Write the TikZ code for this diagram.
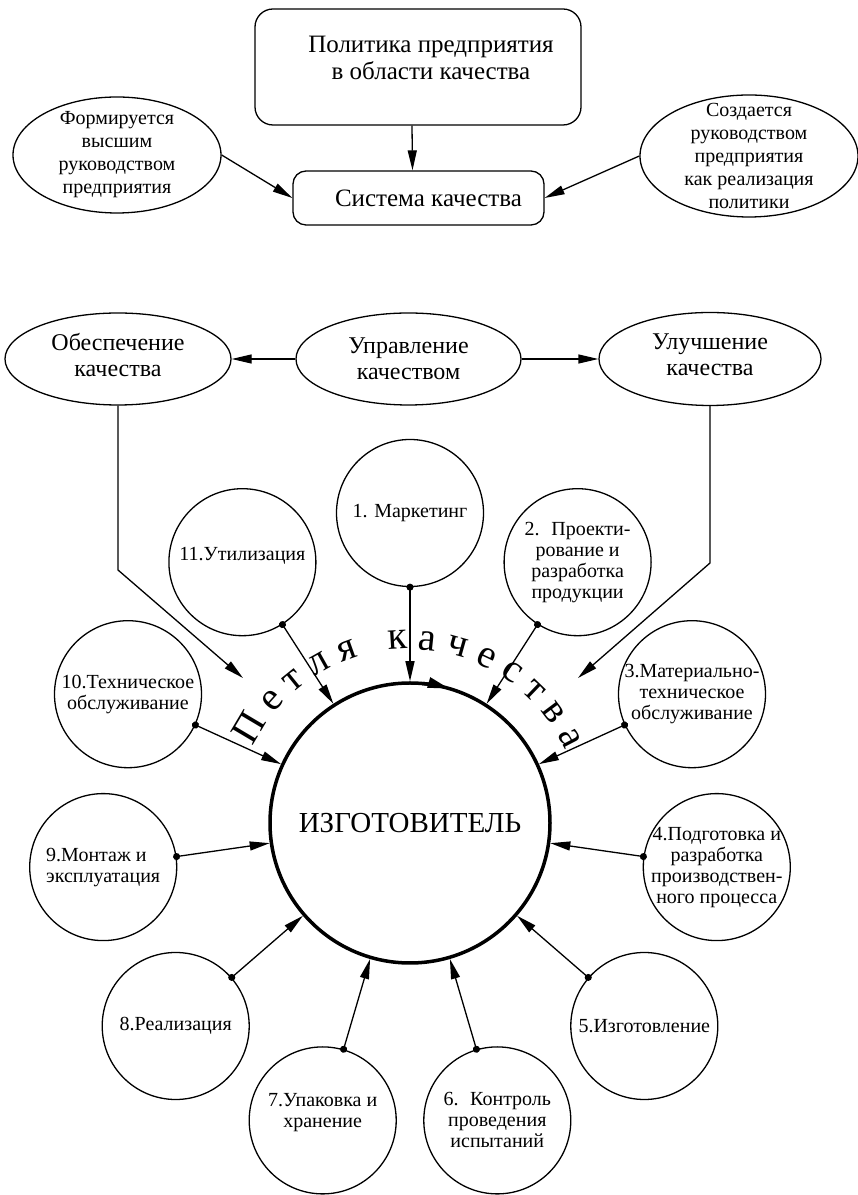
\documentclass[tikz,border=0pt]{standalone}
\usepackage{fontspec}
\setmainfont{Liberation Serif}
\usetikzlibrary{arrows.meta,shapes.geometric,decorations.text}
\tikzstyle{roundbox}=[draw, line width=1.3pt, rounded corners=18pt, inner sep=0pt]
\tikzstyle{oval}=[draw, ellipse, line width=1.3pt, inner sep=0pt]
\tikzstyle{ring}=[draw, circle, line width=1.3pt, minimum size=147pt, inner sep=0pt]
\tikzstyle{core}=[draw, circle, line width=3.5pt, minimum size=280pt, inner sep=0pt, font=\fontsize{29}{31}\selectfont]
\tikzstyle{toptext}=[align=center, font=\fontsize{20}{23}\selectfont]
\tikzstyle{midtext}=[align=center, font=\fontsize{24}{25.5}\selectfont]
\tikzstyle{note}=[align=center, font=\fontsize{20}{21}\selectfont]
\tikzstyle{feed}=[line width=1.3pt, -{Triangle[length=20pt,width=9pt]}]
\tikzstyle{link}=[line width=1.3pt, {Circle[length=7pt]}-{Triangle[length=20pt,width=9pt]}, shorten <=-3.5pt]
\newcommand{\loopfont}{\fontsize{40}{40}\selectfont}
\begin{document}
\begin{tikzpicture}[x=1pt,y=1pt]
\useasboundingbox ( 0 , 0 ) rectangle ( 858 , 1195 );
\node[roundbox, minimum width=326pt, minimum height=116pt] (policy) at ( 418 , 1128 ) {};
\node[align=center, font=\fontsize{25}{27}\selectfont] (policytext) at ( 431 , 1137 ) {Политика предприятия\\в области качества};
\node[roundbox, rounded corners=13pt, minimum width=251pt, minimum height=54pt, font=\fontsize{25}{27}\selectfont] (system) at ( 418.5 , 997 ) {\hspace{20pt}Система качества};
\node[oval, minimum width=208pt, minimum height=116pt, label={[toptext]center:{Формируется\\высшим\\руководством\\предприятия}}] (forms) at ( 117 , 1040 ) {};
\node[oval, minimum width=218pt, minimum height=122pt, label={[toptext]center:{Создается\\руководством\\предприятия\\как реализация\\политики}}] (creates) at ( 749 , 1039 ) {};
\draw[feed] ([xshift=-6pt]policy.south) -- ([xshift=-6pt]system.north);
\draw[feed] (forms.east) -- (system.west);
\draw[feed] (creates.west) -- (system.east);
\node[oval, minimum width=226pt, minimum height=92pt, label={[midtext, yshift=4pt]center:{Обеспечение\\качества}}] (assure) at ( 118 , 836 ) {};
\node[oval, minimum width=225pt, minimum height=92pt, label={[midtext]center:{Управление\\качеством}}] (manage) at ( 408.5 , 836 ) {};
\node[oval, minimum width=222pt, minimum height=93pt, label={[midtext, yshift=4pt]center:{Улучшение\\качества}}] (improve) at ( 710 , 836 ) {};
\draw[feed] (manage.west) -- (assure.east);
\draw[feed] (manage.east) -- (improve.west);
\coordinate (assurebend) at ( 118 , 625 );
\coordinate (assuretip) at ( 243 , 517 );
\coordinate (improvebend) at ( 710 , 632 );
\coordinate (improvetip) at ( 578 , 517 );
\draw[feed] (assure.south) -- (assurebend) -- (assuretip);
\draw[feed] (improve.south) -- (improvebend) -- (improvetip);
\node[core] (core) at ( 410 , 372 ) {ИЗГОТОВИТЕЛЬ};
\node[ring, label={[note]center:{1. Маркетинг}}] (c1) at ( 410 , 682 ) {};
\node[ring, label={[note]center:{2. \ Проекти-\\рование и\\разработка\\продукции}}] (c2) at ( 577.6 , 632.8 ) {};
\node[ring, label={[note]center:{3.Материально-\\техническое\\обслуживание}}] (c3) at ( 692.0 , 500.8 ) {};
\node[ring, label={[note]center:{4.Подготовка и\\разработка\\производствен-\\ного процесса}}] (c4) at ( 716.8 , 327.9 ) {};
\node[ring, label={[note]center:{5.Изготовление}}] (c5) at ( 644.3 , 169.0 ) {};
\node[ring, label={[note]center:{6. \ Контроль\\проведения\\испытаний}}] (c6) at ( 497.3 , 74.6 ) {};
\node[ring, label={[note, yshift=8pt]center:{7.Упаковка и\\хранение}}] (c7) at ( 322.7 , 74.6 ) {};
\node[ring, label={[note]center:{8.Реализация}}] (c8) at ( 175.7 , 169.0 ) {};
\node[ring, label={[note, align=left]center:{9.Монтаж и\\эксплуатация}}] (c9) at ( 103.2 , 327.9 ) {};
\node[ring, label={[note]center:{10.Техническое\\обслуживание}}] (c10) at ( 128.0 , 500.8 ) {};
\node[ring, label={[note, yshift=6pt]center:{11.Утилизация}}] (c11) at ( 242.4 , 632.8 ) {};
\draw[link] (c1) -- (core);
\draw[link] (c2) -- (core);
\draw[link] (c3) -- (core);
\draw[link] (c4) -- (core);
\draw[link] (c5) -- (core);
\draw[link] (c6) -- (core);
\draw[link] (c7) -- (core);
\draw[link] (c8) -- (core);
\draw[link] (c9) -- (core);
\draw[link] (c10) -- (core);
\draw[link] (c11) -- (core);
\draw[line width=3.5pt, -{Triangle[length=22pt,width=10pt]}] ( 422.2 , 511.5 ) arc ( 85 : 73.5 : 140 );
\path[decorate, decoration={text along path, text={|\loopfont|Петля качества}, text align=fit to path}] ( 252.7 , 448.7 ) arc ( 154 : 24.5 : 173 );
\end{tikzpicture}
\end{document}
